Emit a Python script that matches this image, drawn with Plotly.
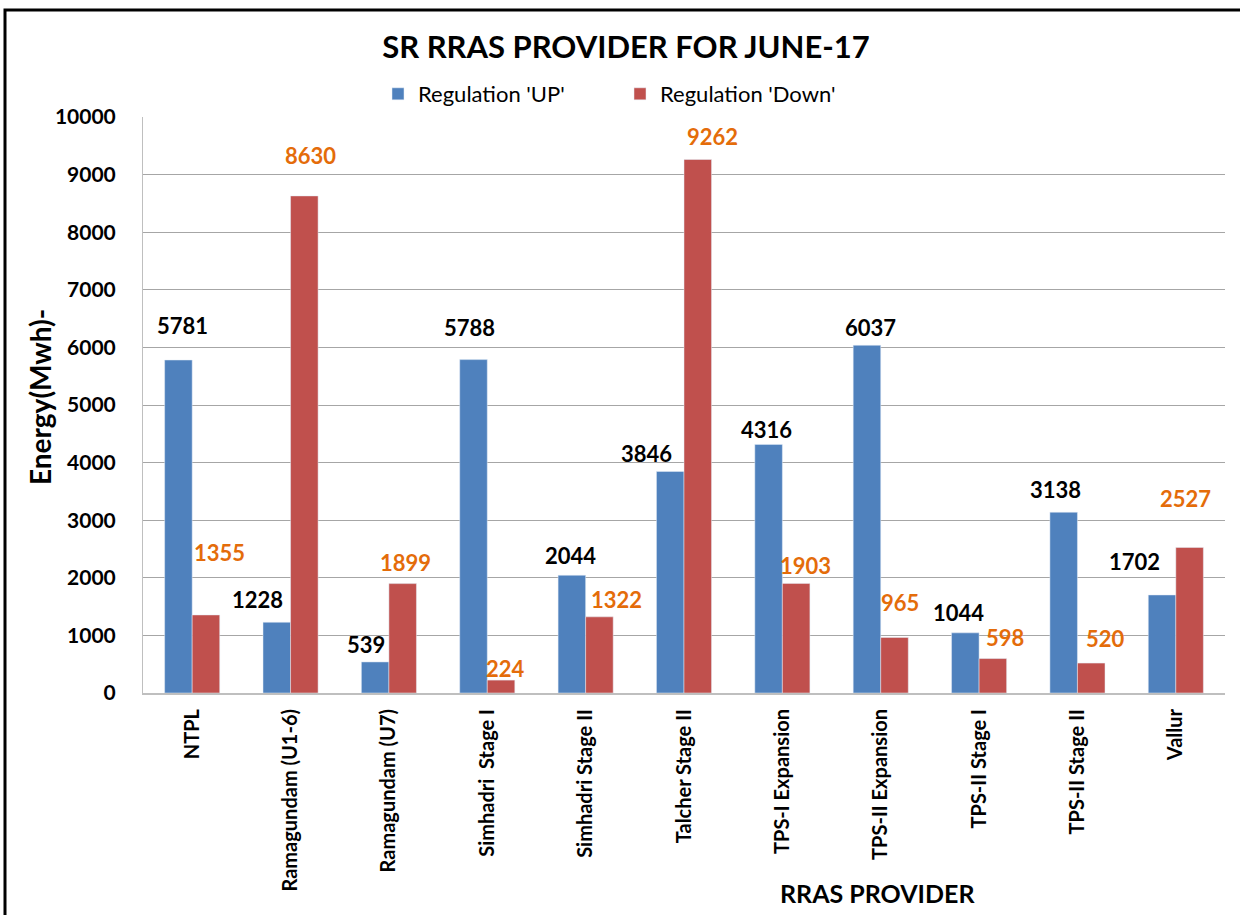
import plotly.graph_objects as go

providers = ["NTPL", "Ramagundam (U1-6)", "Ramagundam (U7)", "Simhadri  Stage I",
             "Simhadri Stage II", "Talcher Stage II", "TPS-I Expansion",
             "TPS-II Expansion", "TPS-II Stage I", "TPS-II Stage II", "Vallur"]
reg_up = [5781, 1228, 539, 5788, 2044, 3846, 4316, 6037, 1044, 3138, 1702]
reg_down = [1355, 8630, 1899, 224, 1322, 9262, 1903, 965, 598, 520, 2527]

# label offsets in pixels (style only), mimicking the hand-placed Excel labels
up_off = [(-10, 35), (-33, 23), (-23, 17), (-18, 32), (-15, 20), (-38, 18),
          (-16, 15), (-10, 18), (-21, 20), (-22, 23), (-41, 33)]
down_off = [(27, 62), (20, 40), (17, 21), (18, 12), (31, 17), (28, 23),
            (23, 18), (19, 35), (26, 21), (28, 25), (10, 49)]

FONT = "Lato, 'Open Sans', sans-serif"
BLUE = "#4F81BD"
RED = "#C0504D"
ORANGE = "#E46C0A"

fig = go.Figure()
fig.add_trace(go.Bar(x=providers, y=reg_up, name="Regulation 'UP'", marker_color=BLUE))
fig.add_trace(go.Bar(x=providers, y=reg_down, name="Regulation 'Down'", marker_color=RED))

annotations = []
for i, p in enumerate(providers):
    annotations.append(dict(x=p, y=reg_up[i], text=str(reg_up[i]), showarrow=False,
                            xshift=up_off[i][0], yshift=up_off[i][1],
                            font=dict(family=FONT, size=22, color="black", weight="bold")))
    annotations.append(dict(x=p, y=reg_down[i], text=str(reg_down[i]), showarrow=False,
                            xshift=down_off[i][0], yshift=down_off[i][1],
                            font=dict(family=FONT, size=22, color=ORANGE, weight="bold")))

annotations.append(dict(xref="paper", yref="paper", x=(877 - 143) / 1082, y=(693 - 893) / 576,
                        text="RRAS PROVIDER", showarrow=False, xanchor="center", yanchor="middle",
                        font=dict(family=FONT, size=25, color="black", weight="bold")))
annotations.append(dict(xref="paper", yref="paper", x=(40 - 143) / 1082, y=(693 - 397) / 576,
                        text="Energy(Mwh)-", showarrow=False, textangle=-90,
                        xanchor="center", yanchor="middle",
                        font=dict(family=FONT, size=28, color="black", weight="bold")))

fig.update_layout(
    width=1240, height=915,
    margin=dict(l=143, r=15, t=117, b=222),
    paper_bgcolor="white", plot_bgcolor="white",
    barmode="group", bargap=0.44, bargroupgap=0,
    font=dict(family=FONT, color="black"),
    title=dict(text="SR RRAS PROVIDER FOR JUNE-17", xref="container", x=626 / 1240,
               xanchor="center", y=1 - 47 / 915, yanchor="middle",
               font=dict(family=FONT, size=31, color="black", weight="bold")),
    legend=dict(orientation="h", x=(378 - 143) / 1082, xanchor="left",
                y=(693 - 94) / 576, yanchor="middle",
                font=dict(family=FONT, size=22, color="black"),
                entrywidth=197, bgcolor="rgba(0,0,0,0)"),
    xaxis=dict(tickangle=-90, showgrid=False, showline=True, linecolor="#BFBFBF", linewidth=2,
               tickfont=dict(family=FONT, size=20, color="black", weight="bold"),
               ticklabelstandoff=6),
    yaxis=dict(range=[0, 10000], dtick=1000, tickformat="d", showgrid=True,
               gridcolor="#A6A6A6", gridwidth=1,
               showline=True, linecolor="#BFBFBF", linewidth=1, zeroline=False,
               tickfont=dict(family=FONT, size=21, color="black", weight="bold"),
               ticklabelstandoff=22),
    annotations=annotations,
    shapes=[dict(type="rect", xref="paper", yref="paper",
                 x0=(5 - 143) / 1082, x1=(1250 - 143) / 1082,
                 y0=(693 - 930) / 576, y1=(693 - 10) / 576,
                 line=dict(color="black", width=3), fillcolor="rgba(0,0,0,0)", layer="above")],
)

fig.write_html("out.html", config={"displayModeBar": False},
               post_script="document.body.style.margin='0';")
